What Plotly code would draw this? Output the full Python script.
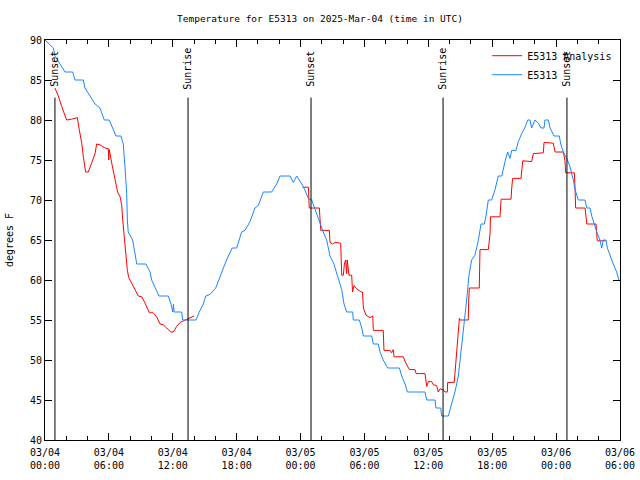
import pandas as pd
import plotly.graph_objects as go

# ---- data (day-of-March HH:MM, UTC) ----
obs_times = ["04 00:00","04 00:47","04 00:56","04 01:25","04 01:53","04 02:36","04 02:49","04 03:36","04 03:45","04 04:14",
             "04 04:42","04 05:10","04 05:34","04 06:02","04 06:40","04 07:08","04 07:21","04 07:31","04 07:40","04 07:44",
             "04 07:49","04 08:14","04 08:27","04 08:37","04 09:29","04 09:52","04 10:01","04 10:20","04 10:42","04 11:35",
             "04 11:50","04 12:00","04 12:04","04 12:07","04 12:50","04 12:56","04 14:11","04 14:29","04 14:52","04 15:06",
             "04 15:30","04 16:02","04 16:26","04 16:54","04 17:13","04 17:35","04 18:00","04 18:28","04 18:47","04 19:15",
             "04 19:43","04 20:02","04 20:30","04 21:17","04 21:46","04 22:04","04 23:01","04 23:19","04 23:38","05 00:07",
             "05 00:25","05 00:44","05 01:03","05 01:21","05 01:40","05 02:08","05 02:27","05 02:46","05 03:08","05 03:27",
             "05 03:52","05 04:05","05 04:20","05 04:54","05 04:57","05 05:31","05 05:45","05 05:54","05 06:41","05 06:50",
             "05 07:18","05 07:28","05 07:46","05 08:11","05 09:17","05 09:30","05 09:49","05 10:02","05 11:41","05 11:51",
             "05 12:38","05 12:43","05 13:10","05 13:15","05 13:53","05 14:12","05 14:30","05 14:49","05 15:08","05 15:21",
             "05 15:36","05 15:49","05 16:04","05 16:23","05 16:42","05 16:57","05 17:16","05 17:25","05 17:38","05 17:57",
             "05 18:16","05 18:34","05 18:54","05 19:12","05 19:27","05 19:40","05 19:50","05 20:14","05 20:27","05 20:46",
             "05 21:05","05 21:20","05 21:33","05 21:42","05 22:01","05 22:20","05 22:35","05 22:52","05 22:57","05 23:16",
             "05 23:26","05 23:48","06 00:18","06 00:26","06 00:41","06 01:00","06 01:18","06 01:37","06 01:47","06 02:05",
             "06 02:43","06 02:53","06 03:11","06 03:21","06 03:34","06 03:49","06 04:07","06 04:17","06 04:26","06 04:41",
             "06 04:49","06 05:04","06 05:22","06 05:41","06 05:54"]
obs_temps = [90,89,88,87,86,86,85,85,84,83,
             82,81.5,80,80,78,78,77,74,71,67.5,
             66,65,63.5,62,62,61,60,59,58,58,
             57,56,57,56,56,55,55,56,57,58,
             58.2,59,60.5,62,63,64,64,66,66.2,67.3,
             69,69.3,71,71,72,73,73,72.2,73,72,
             71.2,70.2,70,68.8,67.7,66,65,63,62,60.6,
             58.8,57,56,56,55,55,54,53,53,52,
             52,51,50,49,49,48,47,46,46,45,
             45,44,44,43,43,44.6,46,48,51.7,53.8,
             57.5,60.6,62.5,63.1,65,67,67,68,70,70,
             71.3,73,73,74.8,76,75.2,76.2,76.2,77.3,78.3,
             79.1,80,80,79,80,79.6,79,79,80,80,
             79,78,78,77,76,75.2,74.2,72.5,71.3,70,
             70,69,69,68,67,66,65,64,65,65,
             64,63,62,61,60]

ana_times = ["04 00:56","04 01:15","04 01:34","04 02:02","04 02:30","04 02:55","04 03:02","04 03:13","04 03:27","04 03:36",
             "04 03:49","04 04:04","04 04:23","04 04:42","04 04:51","04 05:10","04 05:38","04 05:57","04 05:59","04 06:02",
             "04 06:16","04 06:29","04 06:40","04 06:49","04 07:03","04 07:12","04 07:18","04 07:25","04 07:36","04 07:44",
             "04 07:52","04 08:09","04 08:27","04 08:46","04 09:05","04 09:24","04 09:48","04 10:10","04 10:29","04 10:48",
             "04 11:07","04 11:26","04 11:48","04 12:03","04 12:22","04 12:41","04 12:59","04 13:28","04 13:47","04 14:00",
             "04 19:00",
             "05 00:12","05 00:44","05 00:49","05 01:46","05 01:50","05 01:54","05 02:42","05 02:46","05 03:01","05 03:14",
             "05 03:46","05 03:47","05 03:52","05 04:01","05 04:07","05 04:14","05 04:20","05 04:23","05 04:33","05 04:48",
             "05 04:53","05 05:01","05 05:16","05 05:41","05 05:49","05 05:54","05 06:09","05 06:31","05 06:47","05 06:50",
             "05 07:46","05 07:50","05 08:24","05 08:33","05 08:42","05 08:47","05 09:39","05 09:49","05 10:02","05 10:13",
             "05 10:45","05 10:51","05 11:41","05 11:47","05 11:51","05 12:00","05 12:19","05 12:28","05 12:47","05 12:56",
             "05 13:06","05 13:24","05 13:34","05 13:47","05 13:49","05 14:26","05 14:30","05 14:40","05 14:49","05 14:55",
             "05 14:58","05 15:45","05 15:47","05 15:51","05 16:47","05 16:51","05 17:38","05 17:48","05 17:50","05 18:44",
             "05 18:50","05 19:46","05 19:50","05 19:55","05 20:42","05 20:52","05 21:42","05 21:52","05 22:48","05 22:52",
             "05 23:44","05 23:54","06 00:41","06 00:50","06 00:54","06 01:43","06 01:47","06 01:50","06 02:43","06 02:47",
             "06 02:53","06 03:45","06 03:49","06 03:52","06 04:40"]
ana_temps = [84,83,81.7,80,80.1,80.3,80.3,78.8,77.1,75.4,
             73.5,73.5,74.6,75.8,77,76.9,76.5,76.4,75,76.3,
             74.6,73.3,72.1,71,70.4,69.4,67.5,65.8,62.5,61.2,
             60.3,59.5,58.8,58,57.9,57.1,55.9,55.9,55.4,54.5,
             54.4,54,53.5,53.5,54.2,54.7,54.9,55.2,55.4,55.5,
             None,
             71.6,71.6,69,69,67.5,66.2,66.2,64.7,64.5,64.7,
             64.6,62.5,60.6,60.6,62,62.5,60.8,62.5,60.6,60.6,
             58.5,59.3,58.9,58.5,58.5,56.5,55.6,55.3,55.5,53.7,
             53.7,51.2,51.2,50.9,51.3,50.4,50.4,49.8,49.2,48.8,
             48.8,48.3,48.3,47.3,46.7,47.3,47.3,46.9,46.8,46,
             46.4,46.25,46,46,47.2,47.2,48.3,51.2,54.2,55.2,
             55,55,57.2,59,59,63.8,63.8,65.8,67.9,67.9,
             70.1,70.1,71.5,72.7,72.7,74.9,74.8,75.8,75.9,77.2,
             77.1,76,76,74.9,73.4,73.4,71.2,69,69,67.9,
             67,67,66,64.9,64.9]

sun_times = ["04 00:56", "04 13:26", "05 00:59", "05 13:23", "06 01:01"]
sun_labels = ["Sunset", "Sunrise", "Sunset", "Sunrise", "Sunset"]

y_ticks = [40, 45, 50, 55, 60, 65, 70, 75, 80, 85, 90]


def ts(s):
    return pd.to_datetime("2025-03-" + s)


FONT = "DejaVu Sans Mono"

fig = go.Figure()
fig.add_trace(go.Scatter(x=[ts(t) for t in ana_times], y=ana_temps, mode="lines",
                         name="E5313 Analysis", line=dict(color="#ff0000", width=1),
                         connectgaps=False))
fig.add_trace(go.Scatter(x=[ts(t) for t in obs_times], y=obs_temps, mode="lines",
                         name="E5313", line=dict(color="#1a86ff", width=1)))

for t, lab in zip(sun_times, sun_labels):
    fig.add_shape(type="line", xref="x", yref="y", x0=ts(t), x1=ts(t), y0=40, y1=82.8,
                  line=dict(color="black", width=1))
    fig.add_annotation(x=ts(t), y=86.4, xref="x", yref="y", text=lab, textangle=-90,
                       showarrow=False, font=dict(family=FONT, size=10, color="black"),
                       xanchor="center", yanchor="middle")

fig.update_layout(
    width=640, height=480, autosize=False,
    margin=dict(l=45, r=20, t=40, b=40, autoexpand=False),
    plot_bgcolor="white", paper_bgcolor="white",
    font=dict(family=FONT, size=10, color="black"),
    title=dict(text="Temperature for E5313 on 2025-Mar-04 (time in UTC)", x=0.5, xanchor="center",
               y=1 - 19 / 480, yanchor="middle", yref="container", font=dict(family=FONT, size=9.5)),
    legend=dict(x=0.995, y=0.997, xanchor="right", yanchor="top", bgcolor="rgba(0,0,0,0)",
                font=dict(family=FONT, size=10), tracegroupgap=0, itemwidth=30),
    showlegend=True,
)
fig.update_xaxes(
    range=[ts("04 00:00"), ts("06 06:00")], automargin=False,
    dtick=6 * 3600 * 1000, tick0=ts("04 00:00"), tickformat="%m/%d<br>%H:%M",
    ticks="inside", ticklen=7, tickcolor="black", mirror="allticks",
    showline=True, linecolor="black", linewidth=1, showgrid=False, zeroline=False,
    minor=dict(dtick=2 * 3600 * 1000, ticks="inside", ticklen=4, tickcolor="black", showgrid=False),
    tickfont=dict(family=FONT, size=10), ticklabelstandoff=3,
)
fig.update_yaxes(
    range=[40, 90], tickvals=y_ticks, automargin=False,
    ticks="inside", ticklen=7, tickcolor="black", mirror="allticks",
    showline=True, linecolor="black", linewidth=1, showgrid=False, zeroline=False,
    title=dict(text="degrees F", font=dict(family=FONT, size=10), standoff=14),
    tickfont=dict(family=FONT, size=10),
)

fig.write_html("out.html", config={"displayModeBar": False},
               post_script="document.body.style.margin='0';document.body.style.overflow='hidden';")
